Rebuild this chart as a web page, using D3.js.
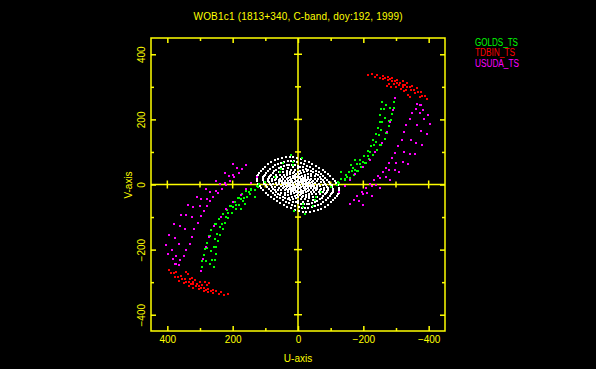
<!DOCTYPE html>
<html>
<head>
<meta charset="utf-8">
<script src="https://cdn.jsdelivr.net/npm/d3@7"></script>
<style>
  body { margin: 0; background: #000; }
  svg { display: block; }
  text { font-family: "Liberation Sans", Arial, sans-serif; font-size: 10px; fill: #ffff00; }
</style>
</head>
<body>
<div id="uv-chart"></div>
<script>
var w = 596, h = 369;

var title = "WOB1c1 (1813+340, C-band, doy:192, 1999)";
var stations = ["GOLDS_TS", "TDBIN_TS", "USUDA_TS"];
var stationColors = ["#00ff00", "#ff0000", "#ff00ff"];
var tickValues = [400, 300, 200, 100, 0, -100, -200, -300, -400];
var majorTicks = [400, 200, 0, -200, -400];

// u,v in mega-lambda, one half of each track (the conjugate half is drawn too)
var golds1 = [[-256,253],[-252,213],[-246,173],[-231,136],[-213,102],[-191,75],[-167,50],[-146,29],[-121,7]];
var golds2 = [[-270,244],[-265,203],[-255,167],[-239,131],[-219,100],[-198,70],[-173,44],[-149,22],[-127,4]];
var golds3 = [[-295,253],[-289,216],[-280,179],[-265,139],[-243,106],[-216,78],[-194,53],[-170,29]];
var golds4 = [[-262,232],[-257,193],[-247,153],[-232,120],[-213,88],[-190,62],[-166,40],[-143,18],[-118,-1]];
var golds5 = [[-283,236],[-278,196],[-268,158],[-252,122],[-231,92],[-207,66],[-184,42],[-160,20]];
var golds6 = [[-255,233],[-250,193],[-240,155],[-223,119],[-203,89],[-180,62],[-157,39],[-133,17]];
var golds7 = [[-293,235],[-286,198],[-273,159],[-255,122],[-230,91],[-205,65],[-182,41]];
var goldsNear = [[20,90],[-13,80],[15,59],[56,39],[46,65],[-132,39],[-143,13],[-163,59],[-173,75],
                 [-51,-48],[-71,-23],[-15,-69],[-127,-23],[-102,-8]];

var tdbin1 = [[-213,336],[-228,338],[-243,336],[-259,333],[-274,330],[-289,327],[-304,322],
              [-320,318],[-335,312],[-350,304],[-365,295],[-378,284],[-390,272],[-396,262]];
var tdbin2 = [[-259,324],[-274,321],[-289,318],[-304,312],[-320,306],[-335,298],[-347,290],[-359,281],[-372,270]];
var tdbin3 = [[-271,302],[-286,301],[-301,299],[-314,293],[-326,286],[-338,275],[-344,269]];
var tdbin4 = [[-236,330],[-251,328],[-266,326],[-281,323],[-297,318],[-312,313],[-328,306],
              [-342,299],[-355,291],[-366,283],[-380,272]];
var tdbin5 = [[-278,309],[-293,308],[-308,305],[-320,298],[-332,290]];

var usuda1 = [[-298,266],[-292,229],[-283,192],[-271,161],[-256,127],[-237,99],[-219,75],
              [-198,53],[-176,32],[-158,13],[-143,-5],[-127,-24]];
var usuda2 = [[-365,247],[-350,219],[-332,182],[-317,136],[-298,96],[-280,66],[-259,38],
              [-234,13],[-207,-11],[-182,-36],[-158,-61]];
var usuda3 = [[-378,244],[-372,219],[-365,182],[-347,136],[-326,99],[-301,66],[-280,44],
              [-252,19],[-225,-5],[-198,-30]];
var usuda4 = [[-375,244],[-399,213],[-405,186],[-396,155],[-381,121],[-359,93],[-338,62],
              [-310,38],[-283,13],[-252,-11],[-225,-36],[-198,-64]];
var usuda5 = [[-384,230],[-385,200],[-378,165],[-362,127],[-342,95],[-320,70],[-296,45],
              [-268,22],[-240,-2],[-212,-25],[-186,-50]];
var usuda6 = [[-360,232],[-342,200],[-325,160],[-305,117],[-287,82],[-268,52],[-246,26],
              [-220,1],[-195,-22],[-170,-48]];

// short baselines, concentric tracks round the centre
var short1 = [[-127,-24],[-124,-10],[-117,4],[-106,18],[-92,32],[-75,45],[-55,57],[-33,68],
              [-10,77],[14,83],[38,84],[60,79],[82,69],[100,55],[114,40],[123,30]];
var short1b = [[-126,-17],[-121,-3],[-112,11],[-99,25],[-84,39],[-65,51],[-44,63],[-22,73],
               [2,80],[26,84],[49,82],[71,74],[91,62],[107,48],[119,35],[125,27]];
var short2 = [[-107,-14],[-103,-3],[-95,9],[-84,21],[-71,33],[-55,43],[-37,54],[-19,62],
              [2,68],[22,71],[42,70],[60,63],[77,53],[91,41],[101,30],[106,23]];
var short2b = [[-108,-20],[-105,-9],[-99,3],[-90,15],[-78,27],[-64,38],[-47,48],[-28,58],
               [-9,65],[12,71],[32,71],[51,67],[70,59],[85,47],[97,34],[105,26]];
var short3 = [[-91,-17],[-89,-7],[-84,3],[-76,13],[-66,23],[-54,32],[-40,41],[-24,49],
              [-7,55],[10,60],[27,60],[43,57],[59,50],[72,40],[82,29],[89,22]];
var short3b = [[-91,-12],[-87,-2],[-81,8],[-71,18],[-60,28],[-47,37],[-32,45],[-16,53],
               [1,58],[19,60],[35,59],[51,53],[66,45],[77,35],[86,25],[90,19]];
var short4 = [[-79,-11],[-76,-2],[-71,7],[-62,16],[-53,25],[-41,32],[-28,40],[-14,46],
              [1,50],[16,53],[31,52],[45,47],[57,39],[67,30],[75,22],[79,17]];
var short5 = [[-70,-13],[-68,-6],[-64,2],[-58,10],[-51,18],[-41,25],[-30,31],[-18,37],
              [-6,42],[8,46],[21,46],[33,43],[45,38],[55,30],[63,22],[68,17]];
var short6 = [[-59,-8],[-57,-1],[-53,5],[-47,12],[-39,18],[-31,24],[-21,30],[-10,34],
              [1,38],[12,39],[23,39],[33,35],[43,29],[50,23],[56,16],[59,13]];
var short7 = [[-51,-10],[-50,-4],[-47,2],[-42,7],[-37,13],[-30,18],[-22,23],[-13,27],
              [-4,31],[6,33],[15,34],[24,32],[33,28],[40,22],[46,16],[49,12]];
var short8 = [[-42,-6],[-40,-1],[-37,4],[-33,8],[-28,13],[-21,17],[-15,21],[-7,24],
              [1,26],[9,28],[16,27],[23,24],[30,20],[35,16],[39,12],[41,9]];
var short9 = [[-33,-6],[-32,-3],[-30,1],[-28,5],[-24,8],[-20,12],[-14,15],[-9,18],
              [-3,20],[4,22],[10,22],[16,21],[21,18],[26,14],[30,10],[32,8]];
var short10 = [[-24,-3],[-21,2],[-16,7],[-12,10],[-8,12],[0,15],[9,16],[17,12],[20,9],[23,6]];
var short11 = [[-15,-3],[-14,1],[-11,4],[-7,7],[-1,9],[5,10],[10,8],[14,5]];
var short12 = [[-7,-1],[-4,3],[1,5],[6,3]];

var series = [
  {color: "#ffffff", tracks: [short1, short1b, short2, short2b, short3, short3b, short4, short5,
                              short6, short7, short8, short9, short10, short11, short12]},
  {color: stationColors[0], tracks: [golds1, golds2, golds3, golds4, golds5, golds6, golds7, goldsNear]},
  {color: stationColors[1], tracks: [tdbin1, tdbin2, tdbin3, tdbin4, tdbin5]},
  {color: stationColors[2], tracks: [usuda1, usuda2, usuda3, usuda4, usuda5, usuda6]}
];

var points = [];
series.forEach(function(s) {
  s.tracks.forEach(function(t) {
    t.forEach(function(p) {
      points.push({u: p[0], v: p[1], color: s.color});
      points.push({u: -p[0], v: -p[1], color: s.color});
    });
  });
});

var x = d3.scaleLinear().domain([450, -450]).range([151, 445]);
var y = d3.scaleLinear().domain([450, -450]).range([38, 331]);
var yellow = "#ffff00";

var svg = d3.select("#uv-chart").append("svg")
  .attr("width", w).attr("height", h)
  .style("background", "#000");

function fmt(d) {
  if (majorTicks.indexOf(d) < 0) return "";
  return d < 0 ? "\u2212" + Math.abs(d) : String(d);
}

function styleAxis(g, minorAttr, minorLen) {
  g.select(".domain").remove();
  g.selectAll(".tick line").attr("stroke", yellow).attr("stroke-width", 1.5)
    .filter(function(d) { return majorTicks.indexOf(d) < 0; })
    .attr(minorAttr, minorLen);
  g.selectAll(".tick text").attr("fill", yellow).style("font-size", "10px")
    .style("font-family", '"Liberation Sans", Arial, sans-serif');
}

// frame axes, ticks pointing inward
var axBottom = svg.append("g").attr("transform", "translate(0," + y(-450) + ")")
  .call(d3.axisBottom(x).tickValues(tickValues).tickSize(-5).tickPadding(5).tickFormat(fmt));
styleAxis(axBottom, "y2", -3);

var axTop = svg.append("g").attr("transform", "translate(0," + y(450) + ")")
  .call(d3.axisTop(x).tickValues(tickValues).tickSize(-5).tickFormat(""));
styleAxis(axTop, "y2", 3);

var axLeft = svg.append("g").attr("transform", "translate(" + x(450) + ",0)")
  .call(d3.axisLeft(y).tickValues(tickValues).tickSize(-5).tickFormat(fmt));
styleAxis(axLeft, "x2", 3);
axLeft.selectAll(".tick text")
  .attr("x", null).attr("dy", null)
  .attr("text-anchor", "middle")
  .attr("transform", "translate(-6,0) rotate(-90)");

var axRight = svg.append("g").attr("transform", "translate(" + x(-450) + ",0)")
  .call(d3.axisRight(y).tickValues(tickValues).tickSize(-5).tickFormat(""));
styleAxis(axRight, "x2", -3);

svg.append("rect")
  .attr("x", x(450)).attr("y", y(450))
  .attr("width", x(-450) - x(450)).attr("height", y(-450) - y(450))
  .attr("fill", "none").attr("stroke", yellow).attr("stroke-width", 1.5);

// zero lines with crossing ticks
svg.append("line").attr("x1", x(0)).attr("x2", x(0)).attr("y1", y(450)).attr("y2", y(-450))
  .attr("stroke", yellow).attr("stroke-width", 1.5);
svg.append("line").attr("x1", x(450)).attr("x2", x(-450)).attr("y1", y(0)).attr("y2", y(0))
  .attr("stroke", yellow).attr("stroke-width", 1.5);

var crossTicks = tickValues.filter(function(d) { return d !== 0; });
svg.selectAll("line.vtick").data(crossTicks).enter().append("line")
  .attr("class", "vtick")
  .attr("x1", function(d) { return x(0) - (majorTicks.indexOf(d) < 0 ? 3 : 4); })
  .attr("x2", function(d) { return x(0) + (majorTicks.indexOf(d) < 0 ? 3 : 4); })
  .attr("y1", function(d) { return y(d); }).attr("y2", function(d) { return y(d); })
  .attr("stroke", yellow).attr("stroke-width", 1.5);
svg.selectAll("line.htick").data(crossTicks).enter().append("line")
  .attr("class", "htick")
  .attr("y1", function(d) { return y(0) - (majorTicks.indexOf(d) < 0 ? 3 : 4); })
  .attr("y2", function(d) { return y(0) + (majorTicks.indexOf(d) < 0 ? 3 : 4); })
  .attr("x1", function(d) { return x(d); }).attr("x2", function(d) { return x(d); })
  .attr("stroke", yellow).attr("stroke-width", 1.5);

// uv points
svg.selectAll("rect.uv").data(points).enter().append("rect")
  .attr("class", "uv")
  .attr("x", function(d) { return Math.round(x(d.u)) - 1; })
  .attr("y", function(d) { return Math.round(y(d.v)) - 1; })
  .attr("width", 2).attr("height", 2)
  .attr("fill", function(d) { return d.color; });

// texts
svg.append("text").attr("x", 298).attr("y", 20).attr("text-anchor", "middle")
  .attr("textLength", 209).text(title);
svg.append("text").attr("x", 298).attr("y", 362).attr("text-anchor", "middle").text("U-axis");
svg.append("text").attr("text-anchor", "middle")
  .attr("transform", "translate(131.5,185) rotate(-90)").text("V-axis");

var legendWidths = [43, 40, 44];
svg.selectAll("text.legend").data(stations).enter().append("text")
  .attr("class", "legend")
  .attr("x", 475)
  .attr("y", function(d, i) { return 45.5 + i * 10.5; })
  .attr("textLength", function(d, i) { return legendWidths[i]; })
  .attr("lengthAdjust", "spacingAndGlyphs")
  .style("font-size", "10px")
  .style("fill", function(d, i) { return stationColors[i]; })
  .text(function(d) { return d; });
</script>
</body>
</html>
